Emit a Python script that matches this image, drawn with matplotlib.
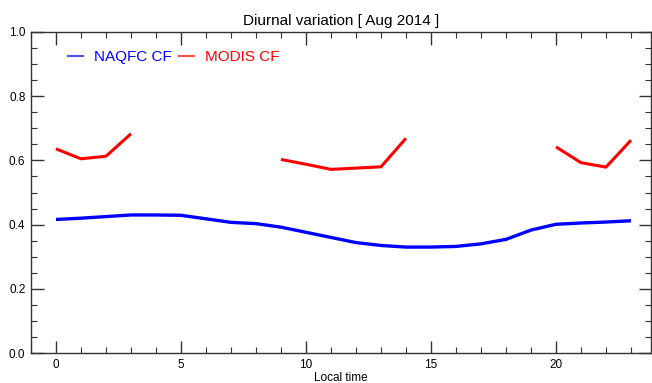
import matplotlib
matplotlib.use("Agg")
import matplotlib.pyplot as plt
import numpy as np
from matplotlib.lines import Line2D
from matplotlib.ticker import MultipleLocator

hours = list(range(24))
naqfc_cf = [0.416, 0.420, 0.425, 0.430, 0.430, 0.429, 0.418, 0.407, 0.403, 0.392,
            0.376, 0.360, 0.344, 0.335, 0.330, 0.330, 0.332, 0.340, 0.354, 0.383,
            0.401, 0.405, 0.408, 0.412]
modis_cf = [0.636, 0.605, 0.613, 0.683, np.nan, np.nan, np.nan, np.nan, np.nan, 0.603,
            0.588, 0.572, 0.576, 0.580, 0.669, np.nan, np.nan, np.nan, np.nan, np.nan,
            0.642, 0.593, 0.579, 0.663]
title = "Diurnal variation [ Aug 2014 ]"
xlabel = "Local time"

plt.rcParams['font.family'] = ['Liberation Sans', 'DejaVu Sans']

fig = plt.figure(figsize=(6.52, 3.83), dpi=100)
ax = fig.add_axes([31/652, 30/383, 620/652, 321/383])

ax.plot(hours, naqfc_cf, color='#0000ff', lw=2.4, solid_capstyle='butt')
ax.plot(hours, modis_cf, color='#ff0000', lw=2.2, solid_capstyle='butt')

ax.set_xlim(-1, 23.8)
ax.set_ylim(0, 1.0)
ax.xaxis.set_major_locator(MultipleLocator(5))
ax.xaxis.set_minor_locator(MultipleLocator(1))
ax.yaxis.set_major_locator(MultipleLocator(0.2))
ax.yaxis.set_minor_locator(MultipleLocator(0.05))
ax.yaxis.set_major_formatter(matplotlib.ticker.FormatStrFormatter('%.1f'))
ax.tick_params(which='both', direction='in', top=True, right=True, colors='#333333',
               labelcolor='black', labelsize=8.5)
ax.tick_params(which='major', length=9, width=1.0, pad=4)
ax.tick_params(which='minor', length=4.5, width=0.8)
for s in ax.spines.values():
    s.set_color('#333333')
    s.set_linewidth(1.0)

ax.set_title(title, fontsize=11, pad=5)
ax.set_xlabel(xlabel, fontsize=8.5, labelpad=1)

handles = [Line2D([], [], color='#0000ff', lw=1.5, alpha=0.7),
           Line2D([], [], color='#ff0000', lw=1.5, alpha=0.7)]
leg = ax.legend(handles, ['NAQFC CF', 'MODIS CF'], ncol=2, frameon=False,
                loc='center left', bbox_to_anchor=(0.059, 0.922), fontsize=11,
                handlelength=1.0, handletextpad=0.7, columnspacing=0.5,
                borderaxespad=0, borderpad=0)
for t, c in zip(leg.get_texts(), ['#0000ff', '#ff0000']):
    t.set_color(c)

fig.savefig('out.png', dpi=100)
